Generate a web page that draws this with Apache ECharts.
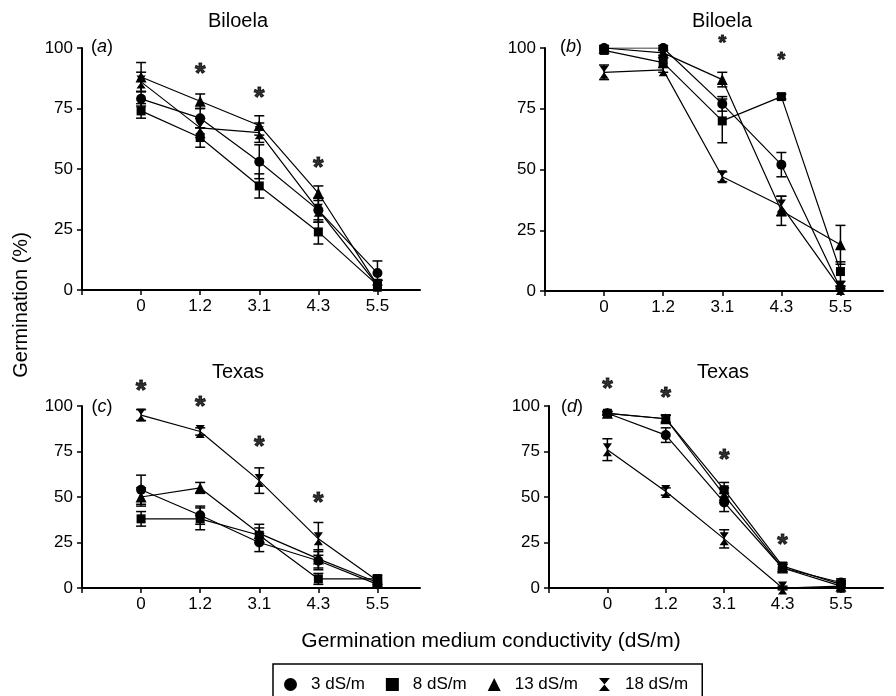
<!DOCTYPE html>
<html><head><meta charset="utf-8">
<script src="https://cdn.jsdelivr.net/npm/echarts@6/dist/echarts.min.js"></script>
<style>html,body{margin:0;padding:0;background:#fff}#c{width:896px;height:696px}</style>
</head><body><div id="c"></div>
<script>
// ---- data ----
const cats = ['0', '1.2', '3.1', '4.3', '5.5'];
const seriesNames = ['3 dS/m', '8 dS/m', '13 dS/m', '18 dS/m'];
const panelTitles = ['Biloela', 'Biloela', 'Texas', 'Texas'];
const panelLetters = ['a', 'b', 'c', 'd'];

// (a) Biloela
const a3 = [79, 71, 53, 33, 7],   a3e = [3, 4, 7, 5, 5];
const a8 = [74, 63, 43, 24, 2],   a8e = [3, 4, 5, 5, 2];
const a13 = [88, 78, 68, 40, 2],  a13e = [6, 3, 4, 3, 2];
const a18 = [86, 67, 65, 33, 2],  a18e = [4, 4, 4, 5, 2];
const aStars = [[1, 92], [2, 82], [3, 53]];
// (b) Biloela
const b3 = [100, 100, 77, 52, 1], b3e = [1, 1, 3, 5, 1];
const b8 = [99, 94, 70, 80, 8],   b8e = [1, 2, 9, 1, 4];
const b13 = [100, 98, 87, 33, 19], b13e = [1, 1, 3, 6, 8];
const b18 = [90, 91, 47, 35, 1],  b18e = [3, 1, 2, 4, 1];
const bStars = [[2, 104], [3, 97]];
// (c) Texas
const c3 = [54, 40, 25, 15, 2],   c3e = [8, 5, 5, 5, 2];
const c8 = [38, 38, 29, 5, 5],    c8e = [4, 6, 4, 3, 2];
const c13 = [50, 55, 30, 16, 3],  c13e = [5, 3, 5, 5, 2];
const c18 = [95, 86, 59, 27, 4],  c18e = [3, 2, 7, 9, 2];
const cStars = [[0, 112], [1, 103], [2, 81], [3, 50]];
// (d) Texas
const d3 = [96, 84, 47, 11, 3],   d3e = [1, 4, 5, 2, 2];
const d8 = [96, 93, 54, 12, 2],   d8e = [1, 2, 4, 2, 2];
const d13 = [96, 93, 51, 11, 1],  d13e = [1, 2, 4, 2, 1];
const d18 = [76, 53, 27, 0, 1],   d18e = [6, 2, 5, 1, 1];
const dStars = [[0, 113], [1, 108], [2, 74], [3, 27]];

// ---- build ----
const FONT = '"Liberation Sans", Arial, Helvetica, sans-serif';
const HOUR = 'path://M0,0L10,0L5,6L10,12L0,12L5,6Z';
const symbols = ['circle', 'rect', 'triangle', HOUR];
const symSizes = [10, 9, 11, [11, 13]];

const panels = [
  {vals: [a3, a8, a13, a18], errs: [a3e, a8e, a13e, a18e], stars: aStars, starSize: 27},
  {vals: [b3, b8, b13, b18], errs: [b3e, b8e, b13e, b18e], stars: bStars, starSize: 20},
  {vals: [c3, c8, c13, c18], errs: [c3e, c8e, c13e, c18e], stars: cStars, starSize: 27},
  {vals: [d3, d8, d13, d18], errs: [d3e, d8e, d13e, d18e], stars: dStars, starSize: 27}
];
const grids = [
  {left: 82, top: 48, width: 338, height: 242},
  {left: 545, top: 48, width: 338, height: 243},
  {left: 82, top: 406, width: 338, height: 182},
  {left: 549, top: 406, width: 334, height: 182}
];

const xAxis = [], yAxis = [], series = [];
grids.forEach((g, i) => {
  xAxis.push({
    type: 'value', gridIndex: i, min: -1, max: 4.72, interval: 1,
    axisLine: {onZero: false, lineStyle: {color: '#000', width: 2}},
    axisTick: {show: true, length: 5, lineStyle: {color: '#000', width: 1.5}, customValues: [-1, 0, 1, 2, 3, 4]},
    axisLabel: {color: '#000', fontSize: 17, fontFamily: FONT, margin: 8, customValues: [0, 1, 2, 3, 4],
      formatter: v => (Number.isInteger(v) && v >= 0 && v < cats.length) ? cats[v] : ''},
    splitLine: {show: false}
  });
  yAxis.push({
    type: 'value', gridIndex: i, min: 0, max: 100, interval: 25,
    axisLine: {show: true, onZero: false, lineStyle: {color: '#000', width: 2}},
    axisTick: {show: true, length: 5, lineStyle: {color: '#000', width: 1.5}},
    axisLabel: {color: '#000', fontSize: 17, fontFamily: FONT, margin: 9},
    splitLine: {show: false}
  });
  const p = panels[i];
  p.vals.forEach((vals, s) => {
    series.push({
      name: seriesNames[s], type: 'line', xAxisIndex: i, yAxisIndex: i,
      data: vals.map((v, k) => [k, v]),
      symbol: symbols[s], symbolSize: symSizes[s], symbolKeepAspect: true,
      itemStyle: {color: '#000'}, lineStyle: {color: '#000', width: 1.2},
      z: 3, animation: false
    });
    series.push({
      type: 'custom', xAxisIndex: i, yAxisIndex: i, z: 2, animation: false, silent: true,
      data: vals.map((v, k) => [k, v - p.errs[s][k], v + p.errs[s][k]]),
      renderItem: (params, api) => {
        const x = api.value(0);
        const lo = api.coord([x, api.value(1)]);
        const hi = api.coord([x, api.value(2)]);
        const w = 5, st = {stroke: '#000', lineWidth: 1.5};
        return {type: 'group', children: [
          {type: 'line', shape: {x1: hi[0], y1: hi[1], x2: lo[0], y2: lo[1]}, style: st},
          {type: 'line', shape: {x1: hi[0] - w, y1: hi[1], x2: hi[0] + w, y2: hi[1]}, style: st},
          {type: 'line', shape: {x1: lo[0] - w, y1: lo[1], x2: lo[0] + w, y2: lo[1]}, style: st}
        ]};
      }
    });
  });
  series.push({
    type: 'scatter', xAxisIndex: i, yAxisIndex: i, clip: false, animation: false, silent: true,
    data: p.stars, symbolSize: 1, itemStyle: {color: 'rgba(0,0,0,0)'},
    label: {show: true, position: 'inside', formatter: '*', color: '#000',
      textBorderColor: '#000', textBorderWidth: 1,
      fontSize: p.starSize, fontWeight: 'bold', fontFamily: FONT, offset: [0, Math.round(p.starSize * 0.25)]}
  });
});

const letterPos = [[102, 47], [571, 47], [102, 407], [572, 407]];
const titlePos = [[238, 21], [722, 21], [238, 372], [723, 372]];
const graphic = [];
panelTitles.forEach((t, i) => {
  graphic.push({type: 'text', x: titlePos[i][0], y: titlePos[i][1],
    style: {text: t, fill: '#000', font: '20px ' + FONT, align: 'center', verticalAlign: 'middle'}});
  graphic.push({type: 'text', x: letterPos[i][0], y: letterPos[i][1],
    style: {text: '({i|' + panelLetters[i] + '})', fill: '#000', font: '18px ' + FONT,
      align: 'center', verticalAlign: 'middle',
      rich: {i: {fontStyle: 'italic', fontSize: 18, fontFamily: FONT, fill: '#000'}}}});
});
graphic.push({type: 'text', x: 21, y: 305, rotation: Math.PI / 2,
  style: {text: 'Germination (%)', fill: '#000', font: '20px ' + FONT, align: 'center', verticalAlign: 'middle'}});
graphic.push({type: 'text', x: 491, y: 641,
  style: {text: 'Germination medium conductivity (dS/m)', fill: '#000', font: '21px ' + FONT, align: 'center', verticalAlign: 'middle'}});

const chart = echarts.init(document.getElementById('c'), null, {renderer: 'canvas'});
chart.setOption({
  animation: false,
  backgroundColor: '#fff',
  grid: grids,
  xAxis, yAxis, series, graphic,
  legend: {
    left: 273, top: 664, orient: 'horizontal',
    data: seriesNames.map((n, s) => ({name: n, icon: symbols[s]})),
    itemWidth: 13, itemHeight: 13, itemGap: 21,
    padding: [12, 14, 20, 11],
    borderColor: '#000', borderWidth: 1.5,
    textStyle: {color: '#000', fontSize: 17, fontFamily: FONT, padding: [0, 0, 0, 9]},
    itemStyle: {color: '#000'}, selectedMode: false
  }
});
</script></body></html>
